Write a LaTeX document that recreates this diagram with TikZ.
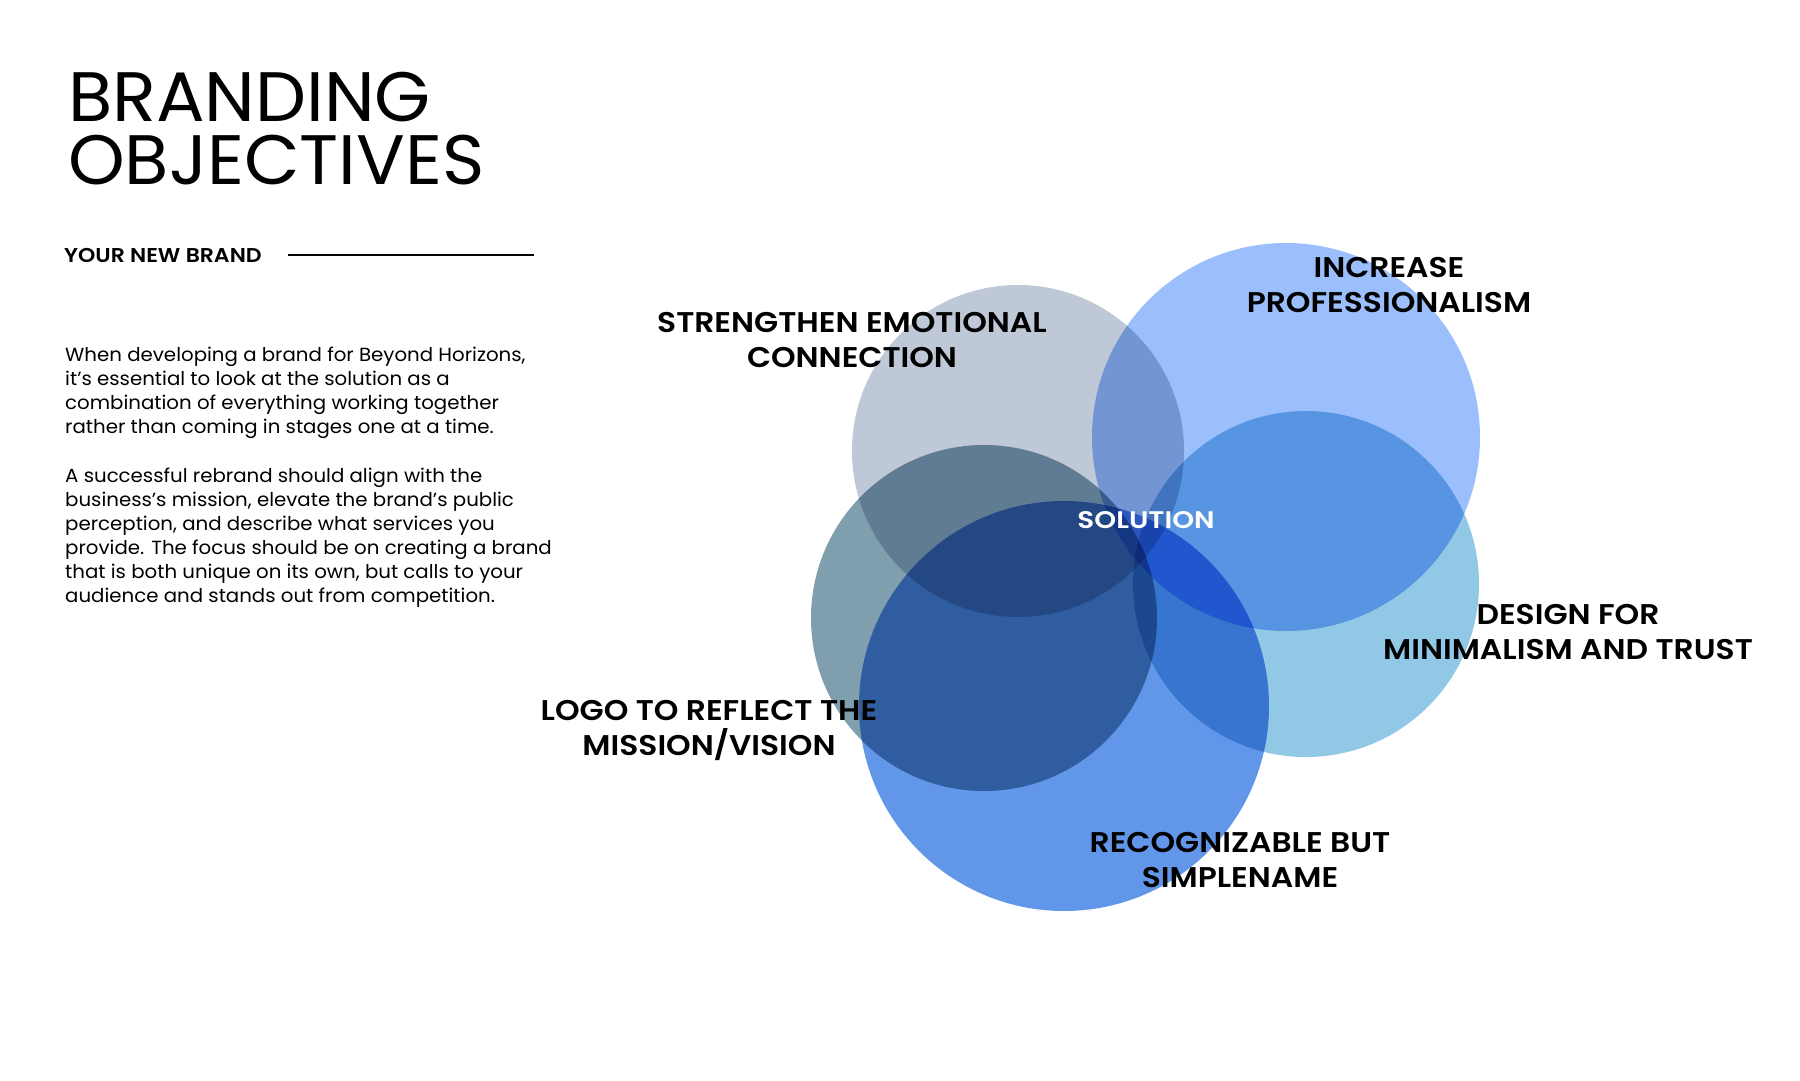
\documentclass[tikz,border=0pt]{standalone}
\usepackage{fontspec}
\setmainfont{Poppins}
\newfontfamily\semib{Poppins SemiBold}
\definecolor{cgray}{RGB}{191,200,214}
\definecolor{cpro}{RGB}{155,191,252}
\definecolor{csky}{RGB}{144,200,230}
\definecolor{cteal}{RGB}{127,159,175}
\definecolor{cblue}{RGB}{98,150,232}
\begin{document}
\begin{tikzpicture}[x=1pt,y=-1pt,
  lbl/.style={font=\fontsize{28.5}{35}\semib\addfontfeature{FakeStretch=1.1}, align=center, text=black, inner sep=0pt},
  para/.style={anchor=north west, inner sep=0pt, align=left, font=\fontsize{19}{24}\selectfont\addfontfeature{FakeStretch=1.04}},
  ttl/.style={anchor=base west, inner sep=0pt, text depth=0pt, text height=49pt, font=\fontsize{70}{62}\selectfont\addfontfeature{FakeStretch=1.03}},
  disc/.style={blend mode=multiply}]
\useasboundingbox (0,0) rectangle (1800,1080);
\fill[white] (0,0) rectangle (1800,1080);
% circles
\fill[disc, cgray] (1018,451) circle[radius=166];
\fill[disc, cpro]  (1286,437) circle[radius=194];
\fill[disc, csky]  (1306,584) circle[radius=173];
\fill[disc, cteal] (984,618) circle[radius=173];
\fill[disc, cblue] (1064,706) circle[radius=205];
% title
\node[ttl] (title1) at (68,121) {BRANDING};
\node[ttl] (title2) at (68,184) {OBJECTIVES};
\node[anchor=base west, inner sep=0pt, font=\fontsize{20}{24}\semib\addfontfeature{FakeStretch=1.1}] (ynb) at (64,262) {YOUR NEW BRAND};
\coordinate (ruleA) at (288,255);
\coordinate (ruleB) at (534,255);
\draw[line width=1.2pt] (ruleA) -- (ruleB);
% paragraphs
\node[para] (p1) at (65,347) {When developing a brand for Beyond Horizons,\\it’s essential to look at the solution as a\\combination of everything working together\\rather than coming in stages one at a time.};
\node[para] (p2) at (65,468) {A successful rebrand should align with the\\business’s mission, elevate the brand’s public\\perception, and describe what services you\\provide. The focus should be on creating a brand\\that is both unique on its own, but calls to your\\audience and stands out from competition.};
% labels
\node[lbl] (l1) at (852,340) {STRENGTHEN EMOTIONAL\\CONNECTION};
\node[lbl] (l2) at (1389,285) {INCREASE\\PROFESSIONALISM};
\node[lbl] (l3) at (1568,632) {DESIGN FOR\\MINIMALISM AND TRUST};
\node[lbl] (l4) at (709,730) {LOGO TO REFLECT THE\\MISSION/VISION};
\node[lbl] (l5) at (1240,860) {RECOGNIZABLE BUT\\SIMPLENAME};
\node[lbl, text=white, font=\fontsize{24}{28}\semib\addfontfeature{FakeStretch=1.16}] (sol) at (1146,520) {SOLUTION};
\end{tikzpicture}
\end{document}
